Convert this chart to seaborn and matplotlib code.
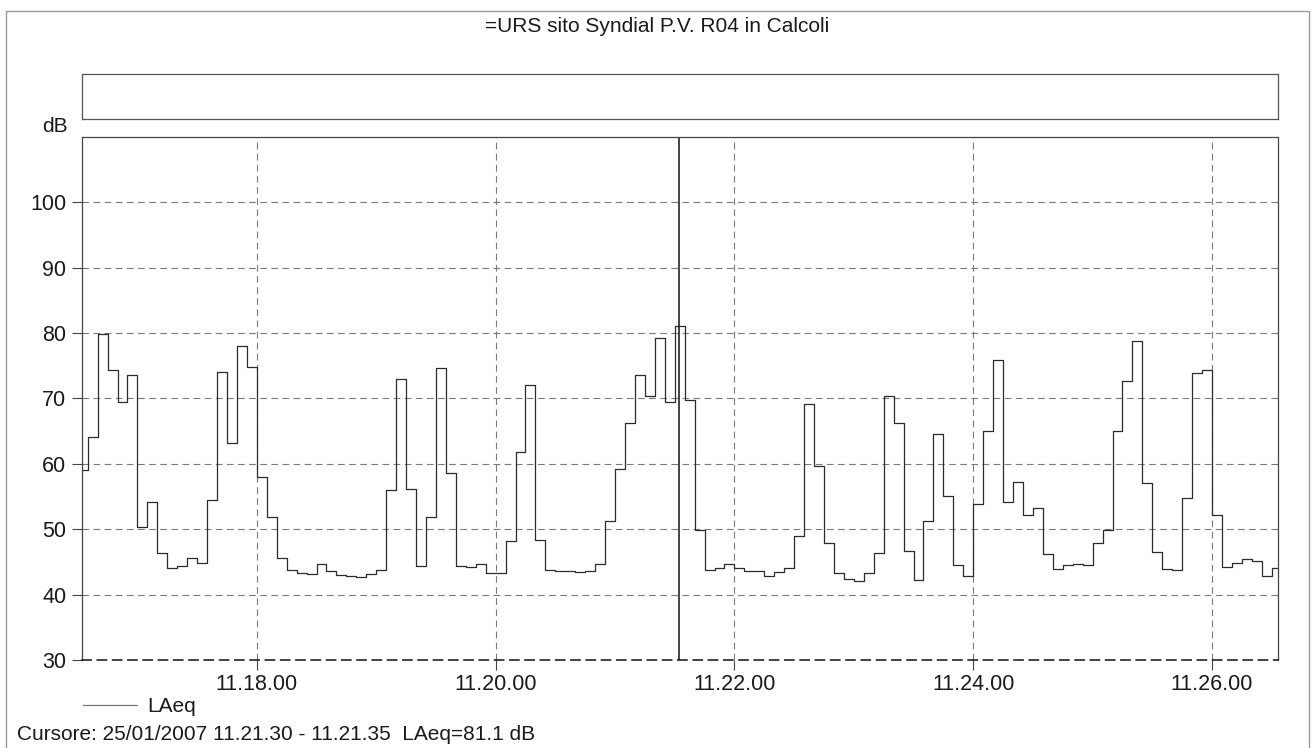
import matplotlib
matplotlib.use("Agg")
import matplotlib.pyplot as plt
import matplotlib.dates as mdates
from matplotlib.patches import Rectangle
import numpy as np
import pandas as pd
import seaborn as sns

# ---- data -------------------------------------------------------------
title = "=URS sito Syndial P.V. R04 in Calcoli"
series_name = "LAeq"
date_str = "25/01/2007"
start_time = "2007-01-25 11:16:30"
step_seconds = 5

# 5-second LAeq values (dB) starting at 11.16.30
laeq = [
    59.1, 64.1, 79.9, 74.4, 69.4, 73.5, 50.3, 54.1, 46.3, 44.1,
    44.4, 45.6, 44.8, 54.5, 74.0, 63.2, 78.0, 74.8, 58.0, 51.9,
    45.6, 43.8, 43.3, 43.2, 44.7, 43.6, 43.0, 42.9, 42.7, 43.2,
    43.7, 56.0, 73.0, 56.1, 44.4, 51.8, 74.6, 58.6, 44.3, 44.2,
    44.7, 43.3, 43.3, 48.2, 61.8, 72.0, 48.3, 43.8, 43.6, 43.6,
    43.4, 43.6, 44.7, 51.3, 59.2, 66.3, 73.6, 70.4, 79.3, 69.5,
    81.1, 69.8, 49.9, 43.8, 44.1, 44.7, 44.1, 43.6, 43.6, 42.9,
    43.5, 44.1, 49.0, 69.2, 59.7, 47.9, 43.3, 42.4, 42.1, 43.3,
    46.3, 70.4, 66.2, 46.7, 42.3, 51.3, 64.5, 55.1, 44.5, 42.9,
    53.8, 65.0, 75.9, 54.1, 57.2, 52.2, 53.2, 46.2, 43.9, 44.5,
    44.6, 44.5, 47.9, 49.9, 65.0, 72.7, 78.7, 57.0, 46.5, 43.9,
    43.8, 54.7, 73.9, 74.4, 52.2, 44.2, 44.8, 45.4, 45.1, 42.8,
    44.1,
]

cursor_start = "2007-01-25 11:21:30"
cursor_end = "2007-01-25 11:21:35"
cursor_value = 81.1

y_ticks = [30, 40, 50, 60, 70, 80, 90, 100]
y_range = (30, 110)
x_range = ("2007-01-25 11:16:32.0", "2007-01-25 11:26:33.3")

# ---- derived ----------------------------------------------------------
times = pd.date_range(start_time, periods=len(laeq), freq=f"{step_seconds}s")
# repeat last sample at the end of its interval so the final step is drawn
t_plot = list(times) + [times[-1] + pd.Timedelta(seconds=step_seconds)]
v_plot = laeq + [laeq[-1]]
df = pd.DataFrame({"time": t_plot, series_name: v_plot})

c0 = pd.Timestamp(cursor_start)
c1 = pd.Timestamp(cursor_end)
cursor_mid = c0 + (c1 - c0) / 2

# ---- figure -----------------------------------------------------------
sns.set_theme(style="white")
plt.rcParams["font.family"] = ["Liberation Sans", "DejaVu Sans"]

W, H = 1315, 748
fig = plt.figure(figsize=(W / 100, H / 100), dpi=100)
fs = 15
fs_tick = 15.5
txt_color = "#1a1a1a"

def fx(px):
    return px / W

def fy(py):
    return 1 - py / H

# outer frame
fig.patches.append(Rectangle((fx(6.5), fy(760)), fx(1309) - fx(6.5), fy(10.5) - fy(760),
                             transform=fig.transFigure, fill=False,
                             edgecolor="#9a9a9a", linewidth=1.0))

fig.text(0.5, fy(26), title, ha="center", va="center", fontsize=fs, color=txt_color)

# empty header box
box = fig.add_axes([fx(81.7), fy(119.3), fx(1278.3) - fx(81.7), fy(74) - fy(119.3)])
box.set_xticks([])
box.set_yticks([])
for s in box.spines.values():
    s.set_color("#555555")
    s.set_linewidth(0.9)

# main plot
ax = fig.add_axes([fx(81.7), fy(660), fx(1278.3) - fx(81.7), fy(136.7) - fy(660)])
sns.lineplot(data=df, x="time", y=series_name, ax=ax, drawstyle="steps-post",
             color="#2b2b2b", linewidth=0.9, label=series_name, legend=False)

ax.set_xlim(pd.Timestamp(x_range[0]), pd.Timestamp(x_range[1]))
ax.set_ylim(*y_range)
ax.set_yticks(y_ticks)
ax.xaxis.set_major_locator(mdates.MinuteLocator(byminute=range(0, 60, 2)))
ax.xaxis.set_major_formatter(mdates.DateFormatter("%H.%M.%S"))
ax.set_xlabel("")
ax.set_ylabel("")

grid_style = dict(color="#7a7a7a", linestyle=(0, (6, 4)), linewidth=0.8)
ax.grid(True, axis="both", **grid_style)
ax.set_axisbelow(True)

ax.tick_params(axis="both", which="major", direction="out", length=7, width=0.8,
               color="#444444", labelsize=fs_tick, labelcolor=txt_color)
ax.tick_params(axis="y", pad=4)
ax.tick_params(axis="x", pad=3)
ax.tick_params(bottom=True, left=True)

for name, s in ax.spines.items():
    s.set_color("#444444")
    s.set_linewidth(0.9)
ax.spines["bottom"].set_linestyle((0, (6, 4)))
ax.spines["bottom"].set_color("#111111")
ax.spines["bottom"].set_linewidth(1.1)

# cursor
ax.axvline(cursor_mid, color="#111111", linewidth=1.1)

fig.text(fx(55), fy(126.7), "dB", ha="center", va="center", fontsize=fs, color=txt_color)

handles, labels = ax.get_legend_handles_labels()
handles[0].set_color("#777777")
fig.legend(handles, labels, loc="center left", bbox_to_anchor=(fx(82.7), fy(707)),
           frameon=False, fontsize=fs, handlelength=2.6, handletextpad=0.5,
           labelcolor=txt_color, borderaxespad=0, borderpad=0)
handles[0].set_color("#2b2b2b")

cursor_text = (f"Cursore: {date_str} {c0:%H.%M.%S} - {c1:%H.%M.%S}  "
               f"{series_name}={cursor_value:.1f} dB")
fig.text(fx(16.7), fy(735), cursor_text, ha="left", va="center", fontsize=fs, color=txt_color)

fig.savefig("out.png", dpi=100)
